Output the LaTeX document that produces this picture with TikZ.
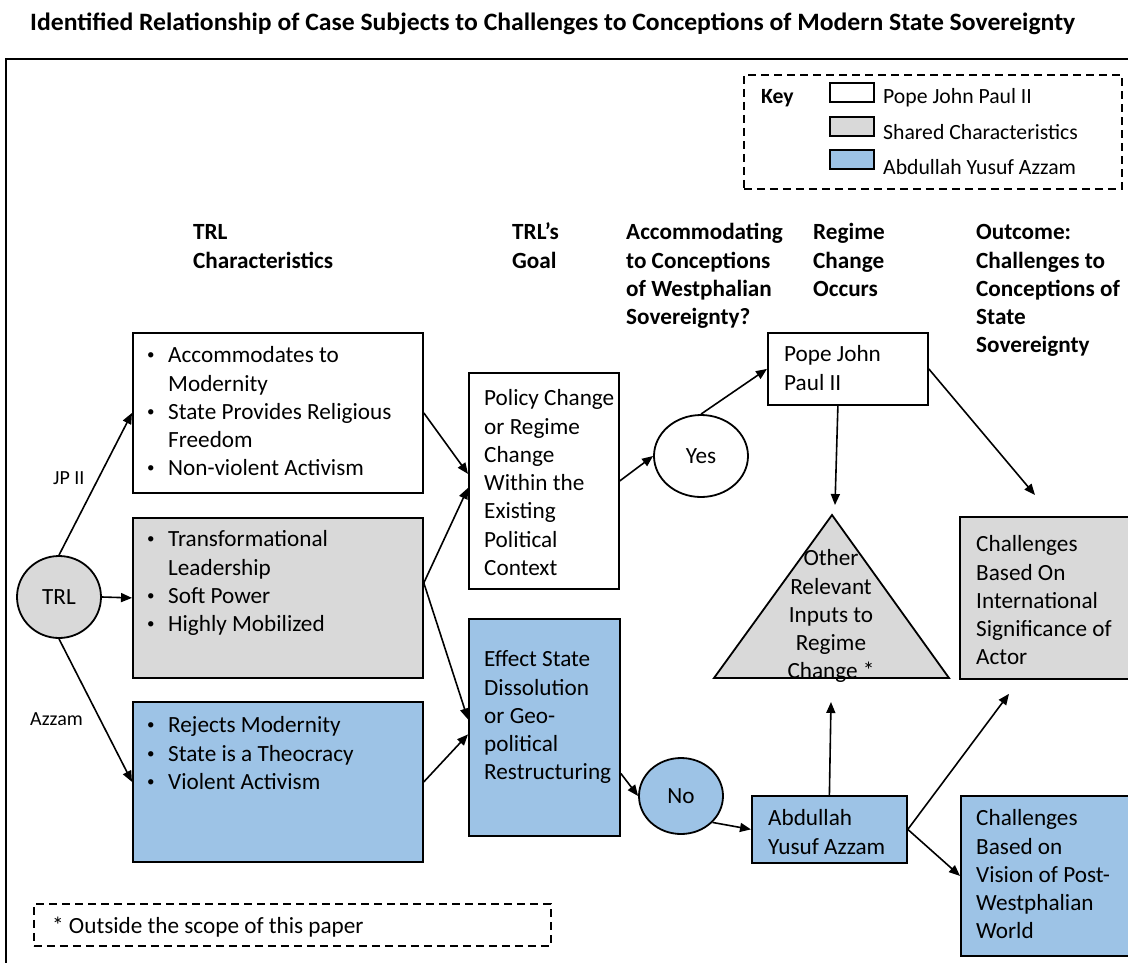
\documentclass[tikz,border=0pt]{standalone}
\usepackage{fontspec}
\usepackage{graphicx}
\setmainfont{Carlito}
\usetikzlibrary{arrows.meta,shapes.geometric,calc}
\definecolor{shared}{HTML}{D9D9D9}
\definecolor{azz}{HTML}{9DC3E6}
\newcommand\bodyfont{\fontsize{23.2pt}{28.3pt}\selectfont}
\newcommand\keyfont{\fontsize{21.7pt}{26.5pt}\selectfont}
\newcommand\lblfont{\fontsize{20pt}{24pt}\selectfont}
\newcommand\smalldot{\raisebox{3pt}{\fontsize{15pt}{15pt}\selectfont\textbullet}}
\newcommand\bitem[1]{\makebox[21pt][l]{\smalldot}#1}
\newcommand\bcont[1]{\hspace*{21pt}#1}
\begin{document}
\begin{tikzpicture}[x=1pt,y=-1pt,
  bx/.style={draw=black, line width=1.8pt, anchor=north west, inner sep=0pt},
  jp/.style={bx, fill=white},
  sh/.style={bx, fill=shared},
  az/.style={bx, fill=azz},
  txt/.style={anchor=north west, inner sep=0pt, align=left, font=\bodyfont},
  hdr/.style={txt, font=\bodyfont\bfseries},
  keytxt/.style={anchor=north west, inner sep=0pt, font=\keyfont},
  lbl/.style={anchor=north west, inner sep=0pt, font=\lblfont},
  oval/.style={ellipse, draw=black, line width=1.8pt, inner sep=0pt, font=\bodyfont},
  arr/.style={draw=black, line width=1.6pt, -{Triangle[length=11pt,width=9pt]}},
  dashframe/.style={draw=black, line width=1.8pt, dash pattern=on 8pt off 5pt, anchor=north west, inner sep=0pt},
]
\path[use as bounding box, clip] (0,0) rectangle (1128,962);
\fill[white] (0,0) rectangle (1128,962);

% title
\node[anchor=base west, inner sep=0pt] (title) at (30,30)
  {\resizebox{1045pt}{\height}{\fontsize{25pt}{30pt}\selectfont\bfseries Identified Relationship of Case Subjects to Challenges to Conceptions of Modern State Sovereignty}};

% outer frame
\draw[line width=2pt] (6,1000) -- (6,59) -- (1200,59);

% key
\node[dashframe, minimum width=378pt, minimum height=114pt] (key) at (743,74) {};
\node[keytxt, font=\keyfont\bfseries] (keyt) at (761,84.5) {\strut Key};
\node[jp, minimum width=44pt, minimum height=19pt] (k1) at (829,82) {};
\node[sh, minimum width=44pt, minimum height=19pt] (k2) at (829,116) {};
\node[az, minimum width=44pt, minimum height=19pt] (k3) at (829,149) {};
\node[keytxt] (k1t) at (883,84.5) {\strut Pope John Paul II};
\node[keytxt] (k2t) at (883,120.5) {\strut Shared Characteristics};
\node[keytxt] (k3t) at (883,155.5) {\strut Abdullah Yusuf Azzam};

% column headings
\node[hdr] (h1) at (193,219.7) {\strut TRL\\Characteristics};
\node[hdr] (h2) at (512,219.7) {\strut TRL’s\\Goal};
\node[hdr] (h3) at (626,219.7) {\strut Accommodating\\to Conceptions\\of Westphalian\\Sovereignty?};
\node[hdr] (h4) at (813,219.7) {\strut Regime\\Change\\Occurs};
\node[hdr] (h5) at (976,219.7) {\strut Outcome:\\Challenges to\\Conceptions of\\State\\Sovereignty};

% characteristics
\node[jp, minimum width=290pt, minimum height=160pt] (b1) at (132,332) {};
\node[sh, minimum width=290pt, minimum height=160pt] (b2) at (132,517) {};
\node[az, minimum width=290pt, minimum height=160pt] (b3) at (132,701) {};
\node[txt] (b1t) at (147,342.7) {\strut\bitem{Accommodates to}\\\bcont{Modernity}\\\bitem{State Provides Religious}\\\bcont{Freedom}\\\bitem{Non-violent Activism}};
\node[txt] (b2t) at (147,526.7) {\strut\bitem{Transformational}\\\bcont{Leadership}\\\bitem{Soft Power}\\\bitem{Highly Mobilized}};
\node[txt] (b3t) at (147,712.7) {\strut\bitem{Rejects Modernity}\\\bitem{State is a Theocracy}\\\bitem{Violent Activism}};

% origin
\node[oval, fill=shared, minimum width=84pt, minimum height=82pt] (trl) at (59,597) {TRL};
\node[lbl] (jpl) at (53,467.6) {\rule{0pt}{16.8pt}JP II};
\node[lbl] (azl) at (30,708.6) {\rule{0pt}{16.8pt}Azzam};

% goals
\node[jp, minimum width=150pt, minimum height=216pt] (goal) at (468,372) {};
\node[az, minimum width=151pt, minimum height=217pt] (eff) at (468,618) {};
\node[txt] (goalt) at (484,385.7) {\strut Policy Change\\or Regime\\Change\\Within the\\Existing\\Political\\Context};
\node[txt] (efft) at (484,646.7) {\strut Effect State\\Dissolution\\or Geo-\\political\\Restructuring};

% decisions
\node[oval, fill=white, minimum width=94pt, minimum height=82pt] (yes) at (701,456) {Yes};
\node[oval, fill=azz, minimum width=84pt, minimum height=76pt] (no) at (681,796) {No};

% regime change
\node[jp, minimum width=160pt, minimum height=72pt] (pope) at (767,332) {};
\node[txt] (popet) at (784,341.7) {\strut Pope John\\Paul II};
\node[az, minimum width=155pt, minimum height=67pt] (azz) at (751,795) {};
\node[txt] (azzt) at (768,805.7) {\strut Abdullah\\Yusuf Azzam};

% other inputs
\coordinate (tApex) at (832,515);
\coordinate (tL) at (714,678);
\coordinate (tR) at (949,678);
\coordinate (tBase) at (831,678);
\draw[line width=1.8pt, fill=shared] (tApex) -- (tR) -- (tL) -- cycle;
\node[txt, align=center, anchor=north] (tri) at (831,545.7) {\strut Other\\Relevant\\Inputs to\\Regime\\Change *};

% outcomes
\node[sh, minimum width=260pt, minimum height=162pt] (outg) at (959,516) {};
\node[az, minimum width=260pt, minimum height=160pt] (outb) at (960,795) {};
\node[txt] (outgt) at (976,531.7) {\strut Challenges\\Based On\\International\\Significance of\\Actor};
\node[txt] (outbt) at (976,805.7) {\strut Challenges\\Based on\\Vision of Post-\\Westphalian\\World};

% footnote
\node[dashframe, minimum width=517pt, minimum height=42pt] (foot) at (33,903) {};
\node[txt] (foott) at (52,913.7) {\strut * Outside the scope of this paper};

% connectors
\draw[arr] (trl.north) -- (b1.west);
\draw[arr] (trl.east) -- (b2.west);
\draw[arr] (trl.south) -- (b3.west);
\draw[arr] (b1.east) -- ([yshift=7pt]goal.west);
\draw[arr] ([yshift=15pt]b2.east) -- ([yshift=-7pt]goal.west);
\draw[arr] ([yshift=15pt]b2.east) -- ([yshift=8pt]eff.west);
\draw[arr] (b3.east) -- ([yshift=-7pt]eff.west);
\draw[arr] (goal.east) -- (yes.west);
\draw[arr] (yes.north) -- (pope.west);
\draw[arr] ([xshift=-10pt]pope.south) -- ([shift={(3pt,10pt)}]tApex);
\draw[arr] (pope.east) -- ([shift={(76pt,21pt)}]outg.north west);
\draw[arr] ([yshift=-46pt]eff.east) -- (no.west);
\draw[arr] (no.-40) -- (azz.west);
\draw[arr] (azz.north) -- ([yshift=-24pt]tBase);
\draw[arr] (azz.east) -- ([shift={(50pt,-14pt)}]outg.south west);
\draw[arr] (azz.east) -- (outb.west);
\end{tikzpicture}
\end{document}
